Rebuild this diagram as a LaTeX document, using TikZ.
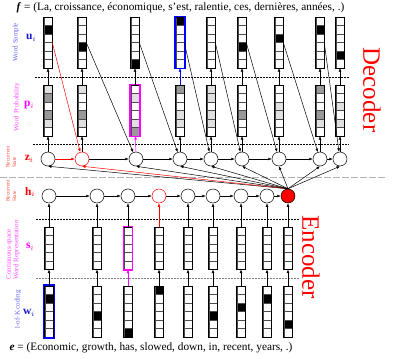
\documentclass[tikz,border=0pt]{standalone}
\usepackage{fontspec}
\setmainfont{Liberation Serif}
\usetikzlibrary{arrows.meta,calc}

\definecolor{g0}{gray}{1}
\definecolor{g1}{gray}{0.88}
\definecolor{g2}{gray}{0.6}
\definecolor{g3}{gray}{0}
\definecolor{rot}{rgb}{1,0,0}
\definecolor{lila}{rgb}{1,0,1}
\definecolor{blau}{rgb}{0,0,1}
\definecolor{hellblau}{rgb}{0.4,0.4,1}
\definecolor{hellila}{rgb}{1,0.3,1}
\definecolor{hellrot}{rgb}{1,0.3,0.25}
\definecolor{dunkelblau}{rgb}{0.1,0.1,0.8}

\tikzset{
  vektor/.style={draw, line width=0.7pt, minimum width=8.5pt, inner sep=0pt, outer sep=0pt},
  zustand/.style={circle, draw, line width=0.5pt, minimum size=14pt, inner sep=0pt},
  pfeil/.style={->, line width=0.5pt},
  punktlinie/.style={line width=0.6pt, dash pattern=on 1.5pt off 1.5pt},
  seitentext/.style={rotate=90, align=left, inner sep=0pt, font=\fontsize{7}{7.5}\selectfont},
  klein/.style={rotate=90, align=left, inner sep=0pt, font=\fontsize{5.5}{6.5}\selectfont, text=hellrot},
  vsym/.style={inner sep=0pt, font=\fontsize{11.5}{12}\selectfont},
  satz/.style={inner sep=0pt, font=\fontsize{11.3}{12}\selectfont},
  teil/.style={rotate=-90, text=rot, inner sep=0pt, font=\fontsize{25}{25}\selectfont}
}

% Vektor aus Zellen: Name, x, oberes y, Anzahl, Grauwerte
\newcommand{\zellvektor}[5]{%
  \foreach \g [count=\k] in #5 {
    \filldraw[fill=g\g, draw=black!70, line width=0.4pt]
      ({#2-4.25},{#3+(\k-1)*8.5}) rectangle ++(8.5,8.5);
  }
  \node[vektor, minimum height=#4*8.5pt] (#1) at (#2,{#3+#4*4.25}) {};
}
\newcommand{\leer}{0,0,0,0,0}

\begin{document}
\begin{tikzpicture}[x=1pt, y=-1pt, >={Latex[length=3.5pt,width=2.8pt]}]
\useasboundingbox (0,0) rectangle (397,359);

% Saetze
\node[satz] (fsatz) at (180.5,8) {\textbf{\textit{f}} = (La, croissance, économique, s'est, ralentie, ces, dernières, années, .)};
\node[satz] (esatz) at (151,348) {\textbf{\textit{e}} = (Economic, growth, has, slowed, down, in, recent, years, .)};

% Trennlinien
\draw[punktlinie] (35,77) -- (350,77);
\draw[punktlinie] (33,144) -- (349,144);
\draw[gray!60, line width=1.2pt, dash pattern=on 7pt off 2pt] (0,177.5) -- (387,177.5);
\draw[punktlinie] (36,219) -- (300,219);
\draw[punktlinie, gray] (36,278) -- (300,278);

% Decoder: Word Sample u_i
\foreach \x/\c [count=\i] in {48/{0,3,0,0,0,0}, 82/{0,0,0,3,0,0}, 135/{0,0,0,0,0,3},
    180/{3,0,0,0,0,0}, 211/{0,0,0,0,0,0}, 242/{0,0,0,3,0,0}, 279/{0,0,3,0,0,0},
    320/{0,3,0,0,0,0}, 340/{0,0,0,0,3,0}} {
  \zellvektor{u\i}{\x}{17}{6}{\c}
}

% Decoder: Word Probability p_i
\foreach \x/\c [count=\i] in {48/{1,2,0,2,1,0}, 82/{1,0,0,2,1,0}, 135/{0,1,0,0,1,2},
    180/{2,0,0,1,1,0}, 211/{1,1,0,1,1,0}, 242/{0,0,0,2,0,0}, 279/{0,0,1,1,0,0},
    320/{2,0,0,2,1,0}, 340/{0,0,1,0,1,0}} {
  \zellvektor{p\i}{\x}{85}{6}{\c}
}

% Decoder: Zustaende z_i
\foreach \x/\rc [count=\i] in {48/black, 82/rot, 136/black, 180/black, 211/black,
    242/black, 279/black, 320/black, 340/black}
  \node[zustand, draw=\rc] (z\i) at (\x,159) {};

% Encoder: 1-of-K w_i und s_i
\foreach \x/\c [count=\i] in {49/{0,3,0,0,0,0}, 97/{0,0,0,3,0,0}, 128/{0,0,0,0,0,3},
    159/{3,0,0,0,0,0}, 188/{0,0,0,0,0,0}, 213/{0,0,0,3,0,0}, 241/{0,0,3,0,0,0},
    267/{0,3,0,0,0,0}, 288/{0,0,0,0,3,0}} {
  \zellvektor{w\i}{\x}{286}{6}{\c}
  \zellvektor{s\i}{\x}{227}{5}{\leer}
}

% Encoder: Zustaende h_i
\foreach \x/\rc/\fc [count=\i] in {49/black/white, 97/black/white, 128/black/white,
    159/rot/white, 188/black/white, 213/black/white, 241/black/white,
    267/black/white, 288/black/rot}
  \node[zustand, draw=\rc, fill=\fc] (h\i) at (\x,196) {};

% hervorgehobene Vektoren
\draw[blau, line width=1.3pt] ($(u4.north west)+(-0.8,-0.8)$) rectangle ($(u4.south east)+(0.8,0.8)$);
\draw[lila, line width=1.3pt] ($(p3.north west)+(-0.8,-0.8)$) rectangle ($(p3.south east)+(0.8,0.8)$);
\draw[lila, line width=1.1pt] ($(s3.north west)+(-0.5,-0.5)$) rectangle ($(s3.south east)+(0.5,0.5)$);
\draw[blau, line width=1.5pt] ($(w1.north west)+(-1.2,-1.2)$) rectangle ($(w1.south east)+(1.2,1.2)$);

% Encoder: Pfeile
\foreach \i/\fa in {1/black, 2/black, 3/lila, 4/black, 5/black, 6/black, 7/black, 8/black, 9/black}
  \draw[pfeil, draw=\fa] (w\i) -- (s\i);
\foreach \i/\fa in {1/black, 2/black, 3/black, 4/rot, 5/black, 6/black, 7/black, 8/black, 9/black}
  \draw[pfeil, draw=\fa] (s\i) -- (h\i);
\foreach \i [evaluate=\i as \j using int(\i+1)] in {1,...,8}
  \draw[pfeil] (h\i) -- (h\j);

% Decoder: Pfeile
\foreach \i/\fa in {1/black, 2/black, 3/lila, 4/black, 5/black, 6/black, 7/black, 8/black, 9/black}
  \draw[pfeil, draw=\fa] (z\i) -- (p\i);
\foreach \i/\fa in {1/black, 2/black, 3/black, 4/blau, 5/black, 6/black, 7/black, 8/black, 9/black}
  \draw[pfeil, draw=\fa] (p\i) -- (u\i);
\foreach \i/\fa [evaluate=\i as \j using int(\i+1)] in {1/rot, 2/black, 3/black, 4/black,
    5/black, 6/black, 7/black, 8/black} {
  \draw[pfeil, draw=\fa] (z\i) -- (z\j);
  \draw[pfeil, draw=\fa] (u\i.east) -- (z\j);
}
% Kontext von h_T an alle z_i
\foreach \i/\fa in {1/black, 2/rot, 3/black, 4/black, 5/black, 6/black, 7/black, 8/black, 9/black}
  \draw[pfeil, draw=\fa] (h9.north) -- (z\i.south);

% Beschriftung links
\node[seitentext, text=hellblau] (lu) at (16,42) {Word Sample};
\node[vsym, text=dunkelblau] (su) at (31,38) {\textbf{u}$_i$};
\node[seitentext, text=hellila] (lp) at (17,107) {Word Probability};
\node[vsym, text=lila] (sp) at (29,105) {\textbf{p}$_i$};
\node[klein] (lz) at (11,157) {Recurrent\\State};
\node[vsym, text=rot] (sz) at (29,159) {\textbf{z}$_i$};
\node[klein] (lh) at (11,191) {Recurrent\\State};
\node[vsym, text=rot] (sh) at (30,192) {\textbf{h}$_i$};
\node[seitentext, text=hellila] (ls) at (13,250) {Continuous-space\\Word Representation};
\node[vsym, text=lila] (ss) at (30,247) {\textbf{s}$_i$};
\node[seitentext, text=hellblau] (lw) at (18,310) {1-of-K coding};
\node[vsym, text=dunkelblau] (sw) at (29,313) {\textbf{w}$_i$};

% Decoder / Encoder
\node[teil] (dec) at (372,90) {Decoder};
\node[teil] (enc) at (311,257) {Encoder};

\end{tikzpicture}
\end{document}
